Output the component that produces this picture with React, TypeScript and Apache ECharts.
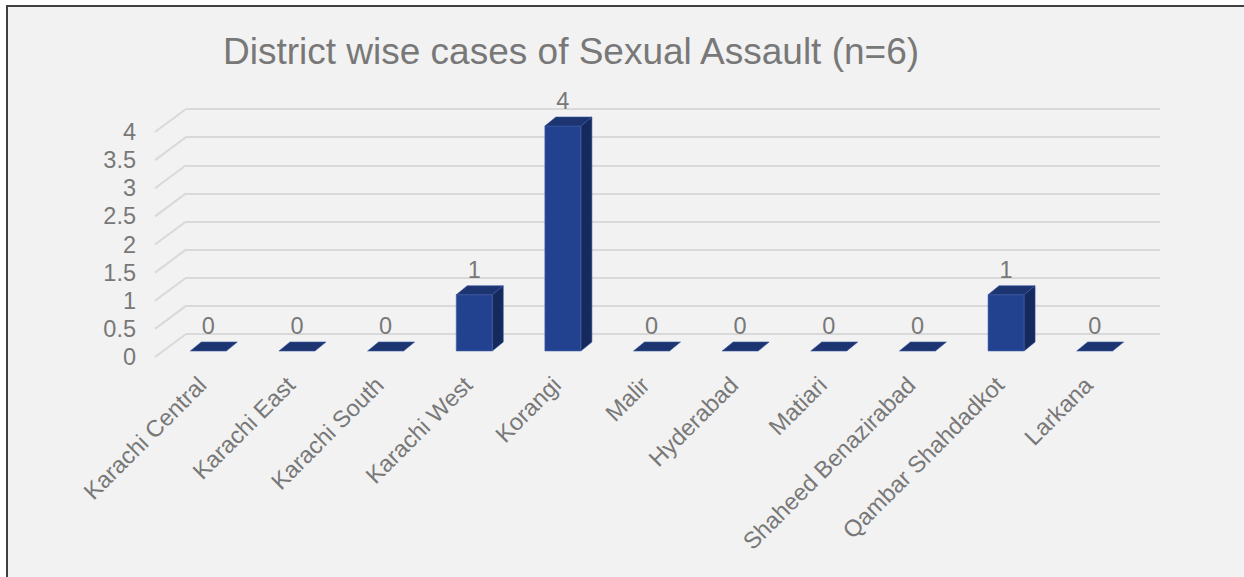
import React, { useEffect, useRef } from "react";
import * as echarts from "echarts";

const categories = [
  "Karachi Central",
  "Karachi East",
  "Karachi South",
  "Karachi West",
  "Korangi",
  "Malir",
  "Hyderabad",
  "Matiari",
  "Shaheed Benazirabad",
  "Qambar Shahdadkot",
  "Larkana",
];
const cases = [0, 0, 0, 1, 4, 0, 0, 0, 0, 1, 0];
const yTicks = [0, 0.5, 1, 1.5, 2, 2.5, 3, 3.5, 4];
const titleText = "District wise cases of Sexual Assault (n=6)";

const FONT = "'Liberation Sans', Arial, sans-serif";
const TEXT = "#787878";
const LABEL_SIZE = 23.5;

export default function App() {
  const ref = useRef<HTMLDivElement>(null);

  useEffect(() => {
    if (!ref.current) return;
    const chart = echarts.init(ref.current, undefined, { renderer: "svg" });
    const yMin = yTicks[0];
    const yMax = yTicks[yTicks.length - 1];
    const step = yTicks[1] - yTicks[0];

    const DX = 11; // bar depth offset
    const DY = -9;
    const HALF = 18; // half bar front width

    chart.setOption({
      animation: false,
      backgroundColor: "transparent",
      title: {
        text: titleText,
        left: 218,
        top: 28,
        textStyle: { fontSize: 37, fontWeight: "normal", color: TEXT, fontFamily: FONT },
      },
      grid: [
        // bar front plane
        { left: 164, top: 126, width: 975, height: 225 },
        // back wall
        { left: 186, top: 109, width: 974, height: 225 },
        // front floor/side plane (y labels)
        { left: 155, top: 132, width: 974, height: 225 },
        // category labels plane
        { left: 158, top: 129, width: 975, height: 225 },
      ],
      xAxis: [
        {
          gridIndex: 0,
          type: "category",
          data: categories,
          show: false,
        },
        { gridIndex: 1, type: "value", min: 0, max: 1, show: false },
        { gridIndex: 2, type: "value", min: 0, max: 1, show: false },
        {
          gridIndex: 3,
          type: "category",
          data: categories,
          axisLine: { show: false },
          axisTick: { show: false },
          axisLabel: {
            interval: 0,
            rotate: 45,
            margin: 27,
            fontSize: LABEL_SIZE,
            color: TEXT,
            fontFamily: FONT,
          },
        },
      ],
      yAxis: [
        { gridIndex: 0, type: "value", min: yMin, max: yMax, interval: step, show: false },
        {
          gridIndex: 1,
          type: "value",
          min: yMin,
          max: yMax,
          interval: step,
          axisLine: { show: false },
          axisTick: { show: false },
          axisLabel: { show: false },
          splitLine: { show: true, lineStyle: { color: "#d9d9d9", width: 2 } },
        },
        {
          gridIndex: 2,
          type: "value",
          min: yMin,
          max: yMax,
          interval: step,
          axisLine: { show: false },
          axisTick: { show: false },
          splitLine: { show: false },
          axisLabel: { margin: 19, fontSize: LABEL_SIZE, color: TEXT, fontFamily: FONT },
        },
        { gridIndex: 3, type: "value", min: yMin, max: yMax, interval: step, show: false },
      ],
      series: [
        {
          type: "custom",
          xAxisIndex: 1,
          yAxisIndex: 1,
          z: 1,
          silent: true,
          data: yTicks.map((t) => [0, t]),
          renderItem: (params: any, api: any) => {
            const p = api.coord([0, api.value(1)]);
            return {
              type: "line",
              shape: { x1: p[0], y1: p[1], x2: p[0] - 31, y2: p[1] + 23 },
              style: { stroke: "#d9d9d9", lineWidth: 2 },
            };
          },
        },
        {
          type: "custom",
          xAxisIndex: 0,
          yAxisIndex: 0,
          z: 3,
          data: cases.map((v, i) => [i, v]),
          renderItem: (params: any, api: any) => {
            const i = api.value(0);
            const v = api.value(1);
            const b = api.coord([i, 0]);
            const t = api.coord([i, v]);
            const cx = b[0];
            const y0 = b[1];
            const yv = t[1];
            const children: any[] = [];
            if (v > 0) {
              children.push({
                type: "polygon",
                shape: {
                  points: [
                    [cx + HALF, yv],
                    [cx + HALF + DX, yv + DY],
                    [cx + HALF + DX, y0 + DY],
                    [cx + HALF, y0],
                  ],
                },
                style: { fill: "#16295c", stroke: "#2c4a94", lineWidth: 0.6 },
              });
              children.push({
                type: "rect",
                shape: { x: cx - HALF, y: yv, width: HALF * 2, height: y0 - yv },
                style: { fill: "#22418f", stroke: "#4a68b0", lineWidth: 0.6 },
              });
            }
            children.push({
              type: "polygon",
              shape: {
                points: [
                  [cx - HALF, yv],
                  [cx - HALF + DX, yv + DY],
                  [cx + HALF + DX, yv + DY],
                  [cx + HALF, yv],
                ],
              },
              style: { fill: "#1c3470", stroke: "#3554a0", lineWidth: 0.6 },
            });
            children.push({
              type: "text",
              x: cx,
              y: yv - 25,
              style: {
                text: String(v),
                textAlign: "center",
                textVerticalAlign: "middle",
                fontSize: LABEL_SIZE,
                fill: TEXT,
                fontFamily: FONT,
              },
            });
            return { type: "group", children };
          },
        },
      ],
    });
    return () => chart.dispose();
  }, []);

  return (
    <div style={{ position: "fixed", left: 0, top: 0, width: 1244, height: 577, background: "#ffffff" }}>
      <div
        style={{
          position: "absolute",
          left: 6,
          top: 5,
          right: 0,
          bottom: 0,
          background: "#f2f2f2",
          borderTop: "2px solid #404040",
          borderLeft: "2px solid #404040",
        }}
      />
      <div ref={ref} style={{ position: "absolute", left: 0, top: 0, width: 1244, height: 577 }} />
    </div>
  );
}
